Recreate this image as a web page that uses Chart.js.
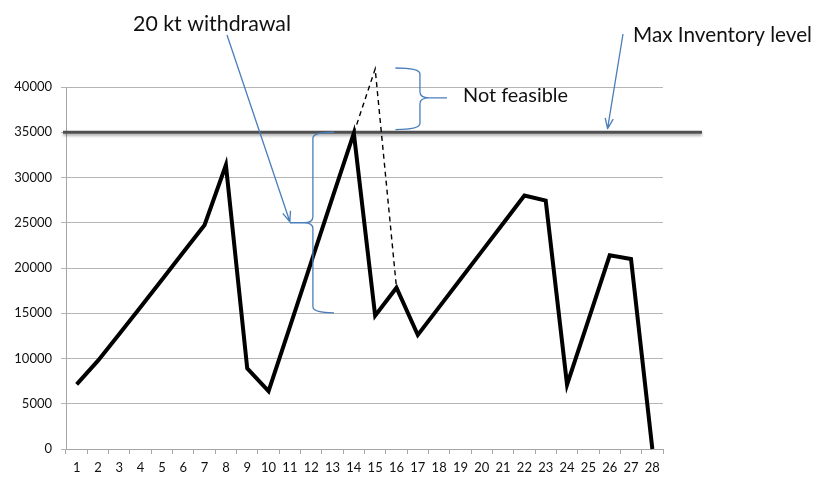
<!DOCTYPE html>
<html>
<head>
<meta charset="utf-8">
<script src="https://cdn.jsdelivr.net/npm/chart.js@4"></script>
<style>
  html, body { margin: 0; padding: 0; background: #fff; }
  canvas { display: block; }
</style>
</head>
<body>
<canvas id="inv" width="819" height="482"></canvas>
<script>
// days 1..28
const days = ['1','2','3','4','5','6','7','8','9','10','11','12','13','14',
  '15','16','17','18','19','20','21','22','23','24','25','26','27','28'];

// stock level per day
const inventory = [7150, 9760, 12700, 15700, 18700, 21750, 24750, 31380, 8900, 6400,
  13500, 20650, 27800, 34900, 14730, 17820, 12600, 15680, 18760, 21840,
  24920, 28000, 27440, 7100, 14250, 21400, 21000, 0];

// what day 15 would look like without the 20 kt withdrawal
const infeasible = [null, null, null, null, null, null, null, null, null, null,
  null, null, null, 34900, 42000, 17820, null, null, null, null,
  null, null, null, null, null, null, null, null];

const yTicks = [0, 5000, 10000, 15000, 20000, 25000, 30000, 35000, 40000];
const maxLevel = 35000;

const FONT = 'Lato';
const BLUE = '#4a7ebb';

function arrow(ctx, x0, y0, x1, y1) {
  const a = Math.atan2(y1 - y0, x1 - x0);
  const len = 11, spread = 0.38;
  ctx.beginPath();
  ctx.moveTo(x0, y0);
  ctx.lineTo(x1, y1);
  ctx.moveTo(x1 - len * Math.cos(a - spread), y1 - len * Math.sin(a - spread));
  ctx.lineTo(x1, y1);
  ctx.lineTo(x1 - len * Math.cos(a + spread), y1 - len * Math.sin(a + spread));
  ctx.stroke();
}

// curly brace: vertical stem at vx, hooks toward hx, point toward tx at ty
function brace(ctx, vx, top, bottom, hx, tx, ty) {
  const r = 6;
  const dir = Math.sign(tx - vx);
  ctx.beginPath();
  ctx.moveTo(hx, top);
  ctx.quadraticCurveTo(vx, top, vx, top + r);
  ctx.lineTo(vx, ty - r);
  ctx.quadraticCurveTo(vx, ty, vx + dir * 9, ty);
  ctx.lineTo(tx, ty);
  ctx.moveTo(vx + dir * 9, ty);
  ctx.quadraticCurveTo(vx, ty, vx, ty + r);
  ctx.lineTo(vx, bottom - r);
  ctx.quadraticCurveTo(vx, bottom, hx, bottom);
  ctx.stroke();
}

function label(ctx, str, x, baseline, size, width) {
  ctx.save();
  ctx.font = size + 'px ' + FONT;
  ctx.fillStyle = '#111';
  ctx.textBaseline = 'alphabetic';
  const w = ctx.measureText(str).width;
  ctx.translate(x, baseline);
  ctx.scale(width / w, 1);
  ctx.fillText(str, 0, 0);
  ctx.restore();
}

const maxLine = {
  id: 'maxLine',
  beforeDatasetsDraw(chart) {
    const { ctx, chartArea } = chart;
    const y = chart.scales.y.getPixelForValue(maxLevel);
    ctx.save();
    ctx.strokeStyle = '#505050';
    ctx.lineWidth = 3;
    ctx.shadowColor = 'rgba(0,0,0,0.35)';
    ctx.shadowBlur = 3;
    ctx.shadowOffsetY = 2;
    ctx.beginPath();
    ctx.moveTo(chartArea.left - 3, y);
    ctx.lineTo(chartArea.right + 39, y);
    ctx.stroke();
    ctx.restore();
  }
};

const notes = {
  id: 'notes',
  afterDatasetsDraw(chart) {
    const { ctx } = chart;
    const px = i => chart.scales.x.getPixelForValue(i);
    const py = v => chart.scales.y.getPixelForValue(v);
    ctx.save();
    ctx.strokeStyle = BLUE;
    ctx.lineWidth = 1.3;
    ctx.lineJoin = 'round';

    // withdrawal brace, pointing at day 11 level 25000
    brace(ctx, px(11.08), py(35000), py(15050), px(12.07), px(10), py(25000));
    // brace over the part above max level
    brace(ctx, px(16.1), py(42100), py(35300), px(14.95), px(17.37), py(38800));

    arrow(ctx, 227, 35, px(10), py(25000) - 1);
    arrow(ctx, 623, 34, px(24.9), py(35400));
    ctx.restore();

    label(ctx, '20 kt withdrawal', 133, 31, 22, 158);
    label(ctx, 'Max Inventory level', 633, 42, 22, 179);
    label(ctx, 'Not feasible', 463, 102, 19, 105);
  }
};

new Chart(document.getElementById('inv'), {
  type: 'line',
  data: {
    labels: days,
    datasets: [
      {
        data: infeasible,
        borderColor: '#000',
        borderWidth: 1.4,
        borderDash: [5, 4],
        pointRadius: 0,
        tension: 0,
        spanGaps: false,
        clip: false,
      },
      {
        data: inventory,
        borderColor: '#000',
        borderWidth: 4,
        borderJoinStyle: 'miter',
        pointRadius: 0,
        tension: 0,
        clip: false,
      },
    ],
  },
  options: {
    responsive: false,
    animation: false,
    events: [],
    layout: { padding: { top: 87, right: 156, left: 0, bottom: 0 } },
    plugins: {
      legend: { display: false },
      tooltip: { enabled: false },
    },
    scales: {
      x: {
        offset: true,
        grid: {
          offset: true,
          drawOnChartArea: false,
          tickLength: 5,
          color: '#a6a6a6',
        },
        border: { color: '#a6a6a6' },
        ticks: {
          color: '#111',
          font: { family: FONT, size: 13 },
          padding: 6,
          maxRotation: 0,
          autoSkip: false,
        },
        afterFit: s => { s.height = 33; },
      },
      y: {
        min: 0,
        max: 40000,
        afterBuildTicks: s => { s.ticks = yTicks.map(v => ({ value: v })); },
        grid: { color: '#b5b5b5', tickLength: 5 },
        border: { color: '#a6a6a6' },
        ticks: {
          color: '#111',
          font: { family: FONT, size: 13 },
          padding: 9,
          callback: v => String(v),
        },
        afterFit: s => { s.width = 66; },
      },
    },
  },
  plugins: [maxLine, notes],
});
</script>
</body>
</html>
